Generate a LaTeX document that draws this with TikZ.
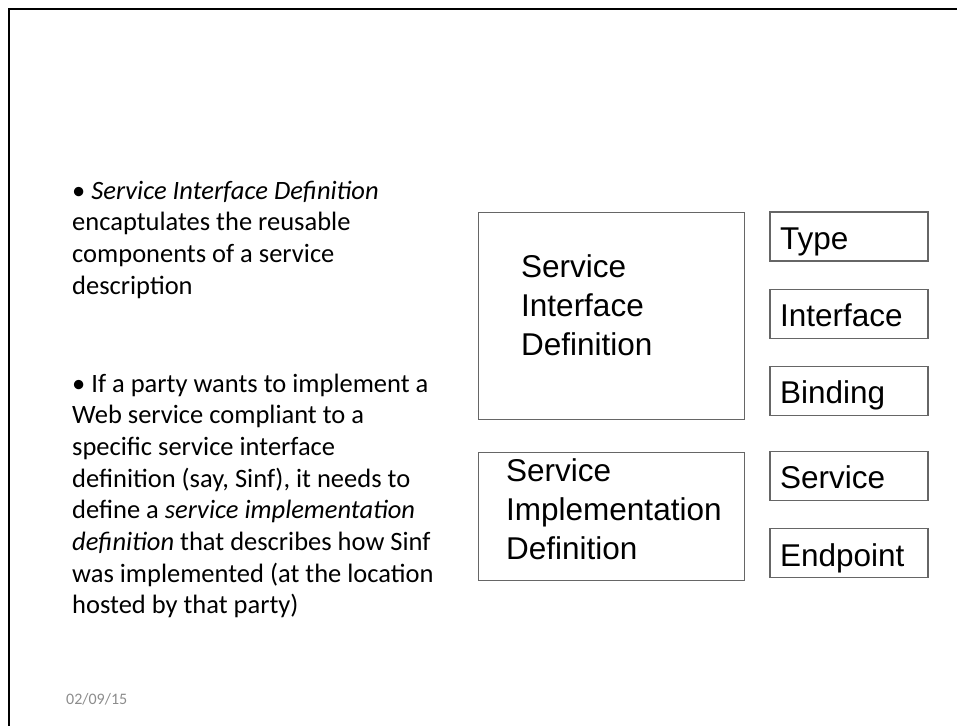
\documentclass[tikz,border=0pt]{standalone}
\usepackage{fontspec}
\setmainfont{Carlito}
\newfontfamily\boxfont{Liberation Sans}
\usetikzlibrary{positioning}
\definecolor{boxgray}{gray}{0.4}
\definecolor{dategray}{gray}{0.55}
\tikzset{bigbox/.style={rectangle, draw=boxgray, line width=1.3pt, anchor=north west,
    minimum width=266pt, inner sep=0pt},
  partbox/.style={rectangle, draw=boxgray, line width=1.3pt, text width=138pt, align=left,
    inner xsep=10pt, inner ysep=0pt, minimum height=49pt, text height=25.4pt, text depth=0pt,
    font=\boxfont\fontsize{31.5}{38.7}\selectfont},
  boxlabel/.style={anchor=base west, align=left, inner sep=0pt,
    font=\boxfont\fontsize{31.5}{38.7}\selectfont},
  bullettext/.style={anchor=base west, align=left, inner sep=0pt,
    font=\fontsize{26.5}{31.7}\selectfont}}

\begin{document}
\begin{tikzpicture}[x=1pt,y=-1pt,node distance=27pt]
  \useasboundingbox (0,0) rectangle (957,725);
  % slide frame
  \draw[line width=2.4pt] (9,730) -- (9,9) -- (962,9);

  % text on the left (placed at the baseline of the last line)
  \node[bullettext] (sidtext) at (72,294.1)
    {• \textit{Service Interface Definition}\\encaptulates the reusable\\components of a service\\description};
  \node[bullettext] (simtext) at (72,613.9)
    {• If a party wants to implement a\\Web service compliant to a\\specific service interface\\definition (say, Sinf), it needs to\\define a \textit{service implementation}\\\textit{definition} that describes how Sinf\\was implemented (at the location\\hosted by that party)};
  \node[anchor=base west, inner sep=0pt, text=dategray, font=\fontsize{16}{19}\selectfont] (date) at (66,704) {02/09/15};

  % the two definitions
  \node[bigbox, minimum height=207pt] (sid) at (478,212) {};
  \node[bigbox, minimum height=128pt] (sim) at (478,452) {};
  \node[boxlabel] (sidlabel) at (521,355) {Service\\Interface\\Definition};
  \node[boxlabel] (simlabel) at (506,559) {Service\\Implementation\\Definition};

  % their parts
  \node[partbox] (type) at (849,236.5) {Type};
  \node[partbox] (interface) [below=of type] {Interface};
  \node[partbox] (binding) [below=of interface] {Binding};
  \node[partbox] (service) at (849,476) {Service};
  \node[partbox] (endpoint) [below=of service] {Endpoint};
\end{tikzpicture}
\end{document}
